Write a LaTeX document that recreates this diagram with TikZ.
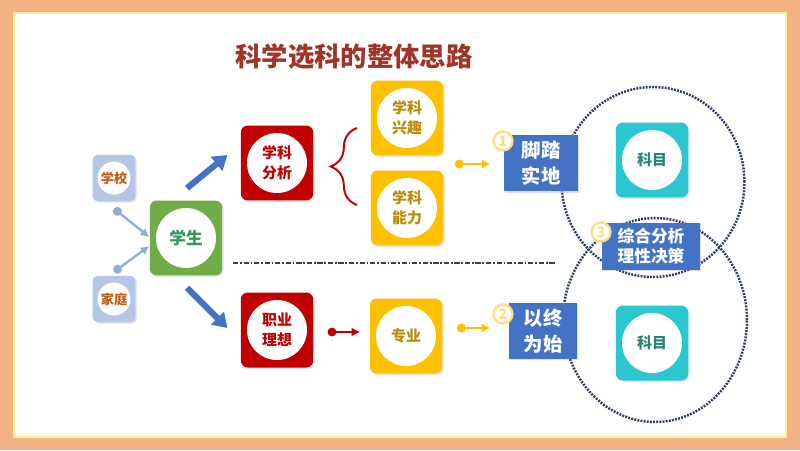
\documentclass[tikz,border=0pt]{standalone}
\usepackage{fontspec}
\setmainfont{Noto Sans CJK SC}
\usepackage{tikz}
\usetikzlibrary{arrows.meta,decorations.pathreplacing,shadows}
\definecolor{frameor}{RGB}{244,177,131}
\definecolor{frameyl}{RGB}{255,238,160}
\definecolor{titlered}{RGB}{160,52,38}
\definecolor{lblue}{RGB}{180,199,231}
\definecolor{lbluearr}{RGB}{143,170,220}
\definecolor{schtxt}{RGB}{197,90,17}
\definecolor{sgreen}{RGB}{112,173,71}
\definecolor{sgreentxt}{RGB}{52,150,95}
\definecolor{dred}{RGB}{192,0,0}
\definecolor{gold}{RGB}{255,192,0}
\definecolor{goldtxt}{RGB}{184,140,10}
\definecolor{mblue}{RGB}{68,114,196}
\definecolor{tealbox}{RGB}{44,198,208}
\definecolor{tealtxt}{RGB}{40,130,120}
\definecolor{navy}{RGB}{47,62,104}
\definecolor{numyl}{RGB}{255,222,130}
\newcommand{\bxfont}{\bfseries\fontsize{8.5}{11.5}\selectfont}
\newcommand{\tgfont}{\bfseries\fontsize{11}{14.5}\selectfont}

\begin{document}
\begin{tikzpicture}[x=0.02cm,y=-0.02cm,
    sq/.style={rounded corners=4pt, fill=#1, minimum width=1.45cm, minimum height=1.5cm,
        align=center, font=\bxfont,
        drop shadow={opacity=0.2, shadow xshift=0.8pt, shadow yshift=-0.8pt},
        path picture={\fill[white] (path picture bounding box.center) circle (0.6cm);}},
    sm/.style={rounded corners=3pt, fill=#1, minimum width=0.86cm, minimum height=0.93cm,
        font=\bfseries\fontsize{7.5}{9}\selectfont,
        drop shadow={opacity=0.2, shadow xshift=0.8pt, shadow yshift=-0.8pt},
        path picture={\fill[white] (path picture bounding box.center) circle (0.33cm);}},
    tag/.style={fill=mblue, text=white, align=center, font=\tgfont, inner sep=0pt,
        drop shadow={opacity=0.25, shadow xshift=0.8pt, shadow yshift=-0.8pt}},
    num/.style={circle, draw=numyl, line width=1.3pt, fill=white, text=numyl, inner sep=0pt,
        minimum size=0.38cm, font=\bfseries\fontsize{8}{8}\selectfont},
    lbarr/.style={lbluearr, line width=1.3pt, {Circle[length=5pt]}-{Latex[length=5pt,width=5pt]}},
    bigarr/.style={mblue, line width=3.5pt, -{Triangle[length=8pt,width=10pt]}},
    redarr/.style={dred, line width=1.2pt, {Circle[length=5pt]}-{Latex[length=5pt,width=5pt]}},
    yarr/.style={gold, line width=1.4pt, {Circle[length=5pt]}-{Latex[length=5pt,width=5pt]}},
    ring/.style={navy, line width=1.4pt, dash pattern=on 1.1pt off 0.7pt}]
    \useasboundingbox (0,0) rectangle (800,450);
    \fill[frameor] (0,0) rectangle (800,450);
    \fill[white, draw=frameyl, line width=1.5pt] (14,13) rectangle (786,437);

    \node[font=\bfseries\fontsize{15}{15}\selectfont, text=titlered] (title) at (354,57) {科学选科的整体思路};

    \draw[ring] (653,182) ellipse [x radius=1.83cm, y radius=1.9cm];
    \draw[ring] (655,320) ellipse [x radius=1.84cm, y radius=2.04cm];
    \draw[navy, line width=0.6pt, dash pattern=on 3pt off 1pt on 1pt off 1pt] (233,263) -- (555,263);

    \node[sm=lblue, text=schtxt] (sch) at (114,178) {学校};
    \node[sm=lblue, text=schtxt] (fam) at (114,299) {家庭};
    \node[sq=sgreen, text=sgreentxt, font=\bfseries\fontsize{9.5}{12}\selectfont] (stu) at (186,238) {学生};
    \node[sq=dred, text=dred] (ana) at (277,163) {学科\\分析};
    \node[sq=dred, text=dred] (car) at (277,330) {职业\\理想};
    \node[sq=gold, text=goldtxt] (int) at (407,118) {学科\\兴趣};
    \node[sq=gold, text=goldtxt] (abi) at (407,208) {学科\\能力};
    \node[sq=gold, text=goldtxt] (maj) at (406,336) {专业};
    \node[sq=tealbox, text=tealtxt] (sub1) at (652,160) {科目};
    \node[sq=tealbox, text=tealtxt] (sub2) at (652,343) {科目};

    \node[tag, minimum width=1.48cm, minimum height=1.14cm] (grd) at (541,163) {脚踏\\实地};
    \node[tag, minimum width=1.36cm, minimum height=1.12cm] (end) at (543,331) {以终\\为始};
    \node[tag, minimum width=1.96cm, minimum height=0.94cm,
        font=\bfseries\fontsize{9.5}{11}\selectfont] (dec) at (651,246) {综合分析\\理性决策};
    \node[num] (n1) at (503,141) {1};
    \node[num] (n2) at (503,314) {2};
    \node[num] (n3) at (601,232) {3};

    \draw[lbarr] ([yshift=-4pt]sch.south) -- ([yshift=0.5pt]stu.west);
    \draw[lbarr] ([yshift=2pt]fam.north) -- ([yshift=-4.5pt]stu.west);
    \draw[bigarr] ([shift={(1,-12)}]stu.north) -- ([shift={(-13,-8)}]ana.west);
    \draw[bigarr] ([shift={(1,12)}]stu.south) -- ([shift={(-13,-2)}]car.west);
    \draw[dred, line width=1.1pt, decorate, decoration={brace, amplitude=15pt}] (357,205) -- (357,128);
    \draw[redarr] ([shift={(14,2)}]car.east) -- ([shift={(-9,-4)}]maj.west);
    \coordinate (ys) at (455,164);
    \coordinate (ye) at (457,328);
    \draw[yarr] (ys) -- ([shift={(-13,1)}]grd.west);
    \draw[yarr] (ye) -- ([shift={(-18,-3)}]end.west);
\end{tikzpicture}
\end{document}
